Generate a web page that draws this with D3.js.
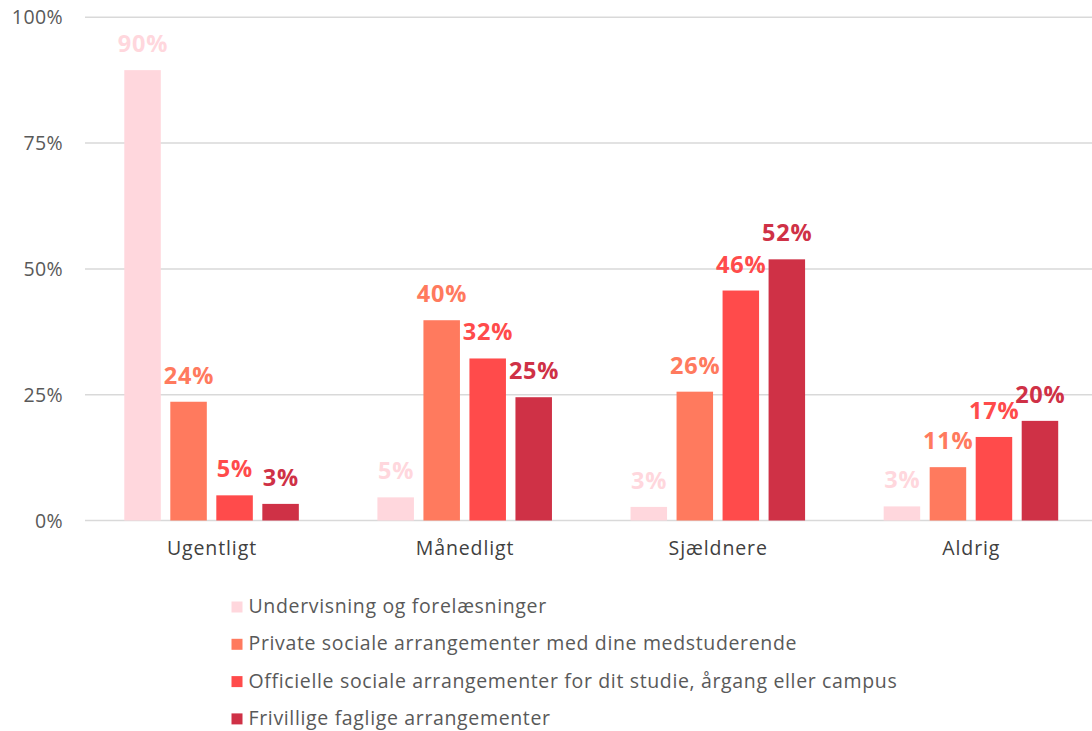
<!DOCTYPE html>
<html>
<head>
<meta charset="UTF-8">
<title>Hyppighed</title>
<style>
body { margin: 0; background: #ffffff; }
svg { display: block; }
</style>
</head>
<body>
<script src="https://cdn.jsdelivr.net/npm/d3@7/dist/d3.min.js"></script>
<script>
// categories on the x axis
var groups = ["Ugentligt", "Månedligt", "Sjældnere", "Aldrig"];
// legend / series names
var series = [
  "Undervisning og forelæsninger",
  "Private sociale arrangementer med dine medstuderende",
  "Officielle sociale arrangementer for dit studie, årgang eller campus",
  "Frivillige faglige arrangementer"
];
var colors = ["#ffd7dd", "#ff7a5e", "#ff4b4b", "#cf3146"];
// values in percent, one array per series
var undervisning = [89.5, 4.6, 2.7, 2.8];
var privat = [23.6, 39.8, 25.6, 10.6];
var officiel = [5.0, 32.2, 45.7, 16.6];
var frivillig = [3.3, 24.5, 51.9, 19.8];
var yTicks = [0, 25, 50, 75, 100];

var values = [undervisning, privat, officiel, frivillig];
var font = "'Open Sans', sans-serif";

var width = 1092, height = 731;
var svg = d3.select("body").append("svg")
  .attr("width", width)
  .attr("height", height);

var x0 = d3.scaleBand()
  .domain(groups)
  .range([85, 1097.5]);
var x1 = d3.scaleBand()
  .domain(series)
  .range([0, x0.bandwidth()])
  .paddingInner(0.2065)
  .paddingOuter(0.854);
var y = d3.scaleLinear()
  .domain([0, 100])
  .range([520.5, 17.3]);

// grid lines
svg.append("g")
  .selectAll("line")
  .data(yTicks)
  .enter().append("line")
  .attr("x1", 85)
  .attr("x2", width)
  .attr("y1", function(d){ return y(d); })
  .attr("y2", function(d){ return y(d); })
  .attr("stroke", "#d9d9d9")
  .attr("stroke-width", 1.5);

// y tick labels
svg.append("g")
  .selectAll("text")
  .data(yTicks)
  .enter().append("text")
  .attr("x", 63)
  .attr("y", function(d){ return y(d) + 7; })
  .attr("text-anchor", "end")
  .attr("font-family", font)
  .attr("font-size", "19.5px")
  .attr("letter-spacing", "0.4px")
  .attr("fill", "#595959")
  .text(function(d){ return d + "%"; });

// bars
var rows = [];
for (var g = 0; g < groups.length; g++) {
  for (var s = 0; s < series.length; s++) {
    rows.push({group: groups[g], series: series[s], idx: s, value: values[s][g]});
  }
}

svg.append("g")
  .selectAll("rect")
  .data(rows)
  .enter().append("rect")
  .attr("x", function(d){ return x0(d.group) + x1(d.series); })
  .attr("y", function(d){ return y(d.value); })
  .attr("width", x1.bandwidth())
  .attr("height", function(d){ return y(0) - y(d.value); })
  .attr("fill", function(d){ return colors[d.idx]; });

// value labels
svg.append("g")
  .selectAll("text")
  .data(rows)
  .enter().append("text")
  .attr("x", function(d){ return x0(d.group) + x1(d.series) + x1.bandwidth() / 2 + 0.4; })
  .attr("y", function(d){ return y(d.value) - 18; })
  .attr("text-anchor", "middle")
  .attr("font-family", font)
  .attr("font-weight", "bold")
  .attr("font-size", "23.5px")
  .attr("letter-spacing", "0.8px")
  .attr("fill", function(d){ return colors[d.idx]; })
  .text(function(d){ return Math.round(d.value) + "%"; });

// category labels
svg.append("g")
  .selectAll("text")
  .data(groups)
  .enter().append("text")
  .attr("x", function(d){ return x0(d) + x0.bandwidth() / 2 + 0.4; })
  .attr("y", 555)
  .attr("text-anchor", "middle")
  .attr("font-family", font)
  .attr("font-size", "19.5px")
  .attr("letter-spacing", "0.9px")
  .attr("fill", "#404040")
  .text(function(d){ return d; });

// legend
var legend = svg.append("g")
  .selectAll("g")
  .data(series)
  .enter().append("g")
  .attr("transform", function(d, i){ return "translate(231.5," + (613 + i * 37.3) + ")"; });
legend.append("rect")
  .attr("x", 0)
  .attr("y", -11.5)
  .attr("width", 11)
  .attr("height", 11)
  .attr("fill", function(d, i){ return colors[i]; });
legend.append("text")
  .attr("x", 17)
  .attr("y", 0)
  .attr("font-family", font)
  .attr("font-size", "19.5px")
  .attr("letter-spacing", "0.65px")
  .attr("fill", "#595959")
  .text(function(d){ return d; });
</script>
</body>
</html>
